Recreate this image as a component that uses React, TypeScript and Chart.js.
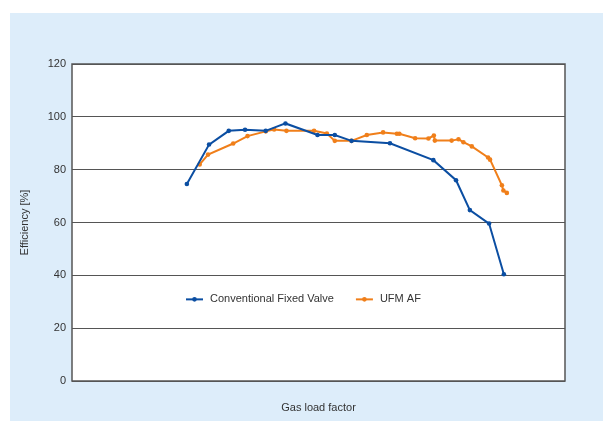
import React, { useEffect, useRef } from "react";
import { Chart, registerables } from "chart.js";

Chart.register(...registerables);

const seriesNames = ["Conventional Fixed Valve", "UFM AF"];
const seriesColors = ["#0b4ea2", "#f07f1a"];
const yTicks = [0, 20, 40, 60, 80, 100, 120];
const xTitle = "Gas load factor";
const yTitle = "Efficiency [%]";

const fixedValveLoad = [23.3, 27.8, 31.8, 35.1, 39.3, 43.3, 49.8, 53.3, 56.7, 64.5, 73.3, 77.9, 80.7, 84.6, 87.6];
const fixedValveEff = [74.6, 89.5, 94.7, 95.1, 94.7, 97.5, 93.1, 93.1, 90.9, 90.0, 83.6, 76.0, 64.7, 59.6, 40.4];

const ufmLoad = [25.9, 27.6, 32.7, 35.6, 39.3, 41.0, 43.5, 49.1, 51.7, 53.3, 56.7, 59.8, 63.1, 65.9, 66.4, 69.6, 72.3, 73.4, 73.6, 77.0, 78.4, 79.4, 81.1, 84.4, 84.8, 87.2, 87.5, 88.2];
const ufmEff = [82.0, 85.7, 89.9, 92.7, 94.5, 95.2, 94.7, 94.7, 93.7, 90.9, 90.9, 93.1, 94.1, 93.6, 93.6, 91.9, 91.8, 92.9, 91.0, 91.0, 91.5, 90.4, 88.8, 84.6, 83.8, 74.1, 72.1, 71.2];

const FONT = "'Liberation Sans', Arial, Helvetica, sans-serif";

const bgPlugin = {
  id: "bgPlugin",
  beforeDraw(chart: any) {
    const { ctx, width, height, chartArea } = chart;
    ctx.save();
    ctx.fillStyle = "#ffffff";
    ctx.fillRect(0, 0, width, height);
    ctx.fillStyle = "#ddedfa";
    ctx.fillRect(10, 13, width - 10, height - 13);
    ctx.fillStyle = "#ffffff";
    ctx.fillRect(chartArea.left, chartArea.top, chartArea.right - chartArea.left, chartArea.bottom - chartArea.top);
    ctx.restore();
  },
  afterDraw(chart: any) {
    const { ctx, chartArea } = chart;
    ctx.save();
    ctx.strokeStyle = "#555555";
    ctx.lineWidth = 1.5;
    ctx.strokeRect(chartArea.left, chartArea.top, chartArea.right - chartArea.left, chartArea.bottom - chartArea.top);
    // legend inside plot
    const yPix = chart.scales.y.getPixelForValue(30.9);
    let x = chartArea.left + 114;
    ctx.font = "11px " + FONT;
    ctx.textBaseline = "middle";
    chart.data.datasets.forEach((ds: any) => {
      ctx.strokeStyle = ds.borderColor;
      ctx.lineWidth = 2;
      ctx.beginPath();
      ctx.moveTo(x, yPix);
      ctx.lineTo(x + 17, yPix);
      ctx.stroke();
      ctx.fillStyle = ds.borderColor;
      ctx.beginPath();
      ctx.arc(x + 8.5, yPix, 2.3, 0, Math.PI * 2);
      ctx.fill();
      ctx.fillStyle = "#333333";
      ctx.fillText(ds.label, x + 24, yPix);
      x += 24 + ctx.measureText(ds.label).width + 22;
    });
    ctx.restore();
  },
};

export default function App() {
  const ref = useRef<HTMLCanvasElement | null>(null);
  useEffect(() => {
    document.body.style.margin = "0";
    const canvas = ref.current;
    if (!canvas) return;
    const chart = new Chart(canvas, {
      type: "line",
      data: {
        datasets: [
          {
            label: seriesNames[0],
            data: fixedValveLoad.map((x, i) => ({ x, y: fixedValveEff[i] })),
            borderColor: seriesColors[0],
            backgroundColor: seriesColors[0],
            borderWidth: 2,
            pointRadius: 2.3,
            pointBorderWidth: 0,
            tension: 0,
          },
          {
            label: seriesNames[1],
            data: ufmLoad.map((x, i) => ({ x, y: ufmEff[i] })),
            borderColor: seriesColors[1],
            backgroundColor: seriesColors[1],
            borderWidth: 2,
            pointRadius: 2.3,
            pointBorderWidth: 0,
            tension: 0,
          },
        ],
      },
      options: {
        responsive: false,
        animation: false,
        layout: { padding: { left: 14, right: 38, top: 64, bottom: 0 } },
        plugins: {
          legend: { display: false },
          tooltip: { enabled: false },
        },
        scales: {
          x: {
            type: "linear",
            min: 0,
            max: 100,
            ticks: { display: false },
            grid: { display: false, drawTicks: false },
            border: { display: false },
            title: { display: true, text: xTitle, color: "#333333", font: { family: FONT, size: 11 }, padding: { top: 4, bottom: 6 } },
            afterFit: (axis: any) => { axis.height = 40; },
          },
          y: {
            min: 0,
            max: 120,
            afterBuildTicks: (axis: any) => { axis.ticks = yTicks.map((v) => ({ value: v })); },
            ticks: { color: "#333333", font: { family: FONT, size: 11 }, padding: 6 },
            grid: { color: "#555555", lineWidth: 1, drawTicks: false },
            border: { display: false },
            title: { display: true, text: yTitle, color: "#333333", font: { family: FONT, size: 11 }, padding: { top: 4, bottom: 4 } },
            afterFit: (axis: any) => { axis.width = 58; },
          },
        },
      },
      plugins: [bgPlugin],
    });
    return () => chart.destroy();
  }, []);
  return (
    <div style={{ position: "absolute", left: 0, top: 0, width: 603, height: 421 }}>
      <canvas ref={ref} width={603} height={421} style={{ width: 603, height: 421, display: "block" }} />
    </div>
  );
}
